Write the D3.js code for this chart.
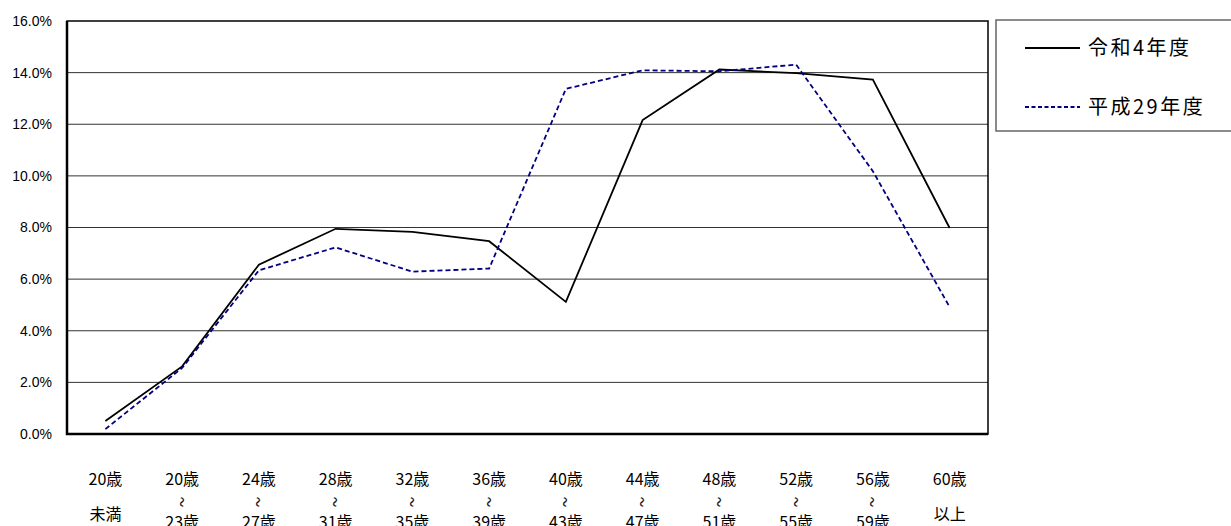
<!DOCTYPE html>
<html>
<head>
<meta charset="utf-8">
<script src="https://cdn.jsdelivr.net/npm/d3@7"></script>
<style>
  body { margin: 0; background: #fff; }
  svg { display: block; font-family: "Noto Sans CJK JP", "Liberation Sans", sans-serif; }
</style>
</head>
<body>
<svg id="chart" width="1231" height="526"></svg>
<script>
// age groups: first line / last line of each label
const ageTop = ['20歳', '20歳', '24歳', '28歳', '32歳', '36歳', '40歳', '44歳', '48歳', '52歳', '56歳', '60歳'];
const ageBottom = ['未満', '23歳', '27歳', '31歳', '35歳', '39歳', '43歳', '47歳', '51歳', '55歳', '59歳', '以上'];
const hasTilde = [false, true, true, true, true, true, true, true, true, true, true, false];

const reiwa4 = [0.5, 2.62, 6.56, 7.95, 7.83, 7.47, 5.12, 12.16, 14.12, 13.98, 13.73, 7.98];
const heisei29 = [0.19, 2.56, 6.34, 7.23, 6.29, 6.41, 13.37, 14.09, 14.05, 14.31, 10.18, 4.92];

const yTicks = [0, 2, 4, 6, 8, 10, 12, 14, 16];

const series = [
    {name: '令和4年度', values: reiwa4, color: '#000', dash: null},
    {name: '平成29年度', values: heisei29, color: '#000080', dash: '5,3'}
];

const svg = d3.select('#chart');
const plotL = 67, plotR = 988, plotT = 21, plotB = 434;

const x = d3.scaleBand()
    .domain(d3.range(ageTop.length))
    .range([plotL, plotR]);

const y = d3.scaleLinear()
    .domain([0, 16])
    .range([plotB, plotT]);

// gridlines
svg.append('g')
    .selectAll('line')
    .data(yTicks.slice(1, -1))
    .enter()
    .append('line')
    .attr('x1', plotL)
    .attr('x2', plotR)
    .attr('y1', d => y(d))
    .attr('y2', d => y(d))
    .attr('stroke', '#333')
    .attr('stroke-width', 1);

// y axis labels
const yAxis = d3.axisLeft(y)
    .tickValues(yTicks)
    .tickSize(0)
    .tickPadding(15)
    .tickFormat(d => d.toFixed(1) + '%');

svg.append('g')
    .attr('transform', `translate(${plotL},0)`)
    .call(yAxis)
    .call(g => g.select('.domain').remove())
    .selectAll('text')
    .attr('font-size', 14)
    .attr('fill', '#000')
    .attr('font-family', '"Liberation Sans", sans-serif');

// frame
svg.append('rect')
    .attr('x', plotL)
    .attr('y', plotT)
    .attr('width', plotR - plotL)
    .attr('height', plotB - plotT)
    .attr('fill', 'none')
    .attr('stroke', '#000')
    .attr('stroke-width', 1.5);
svg.append('path')
    .attr('d', `M${plotL},${plotT}V${plotB}H${plotR}`)
    .attr('fill', 'none')
    .attr('stroke', '#000')
    .attr('stroke-width', 2.5);

// lines
const line = d3.line()
    .x((d, i) => x(i) + x.bandwidth() / 2)
    .y(d => y(d));

svg.append('g')
    .selectAll('path')
    .data(series)
    .enter()
    .append('path')
    .attr('d', d => line(d.values))
    .attr('fill', 'none')
    .attr('stroke', d => d.color)
    .attr('stroke-width', 1.8)
    .attr('stroke-dasharray', d => d.dash);

// x labels
const xl = svg.append('g')
    .selectAll('g')
    .data(ageTop)
    .enter()
    .append('g')
    .attr('transform', (d, i) => `translate(${x(i) + x.bandwidth() / 2},0)`)
    .attr('text-anchor', 'middle')
    .attr('font-size', 16);

xl.append('text')
    .attr('y', 485)
    .text(d => d);

xl.each(function(d, i) {
    const g = d3.select(this);
    if (hasTilde[i]) {
        // vertical wave mark between the two ages
        g.append('text')
            .attr('transform', 'translate(0,502) rotate(90)')
            .attr('dominant-baseline', 'central')
            .attr('font-size', 10)
            .attr('fill', '#000')
            .attr('stroke', '#000')
            .attr('stroke-width', 0.3)
            .text('～');
        g.append('text')
            .attr('y', 528)
            .text(ageBottom[i]);
    } else {
        g.append('text')
            .attr('y', 520)
            .text(ageBottom[i]);
    }
});

// legend
const legend = svg.append('g');
legend.append('rect')
    .attr('x', 996)
    .attr('y', 20)
    .attr('width', 250)
    .attr('height', 111)
    .attr('fill', '#fff')
    .attr('stroke', '#666')
    .attr('stroke-width', 1.5);

const legendRow = legend.selectAll('g.row')
    .data(series)
    .enter()
    .append('g')
    .attr('class', 'row')
    .attr('transform', (d, i) => `translate(0,${48 + i * 59})`);

legendRow.append('line')
    .attr('x1', 1025)
    .attr('x2', 1080)
    .attr('stroke', d => d.color)
    .attr('stroke-width', 1.8)
    .attr('stroke-dasharray', d => d.dash ? '4,2.5' : null);

legendRow.append('text')
    .attr('x', 1088)
    .attr('y', 7)
    .attr('font-size', 20)
    .attr('letter-spacing', 2.5)
    .text(d => d.name);
</script>
</body>
</html>
